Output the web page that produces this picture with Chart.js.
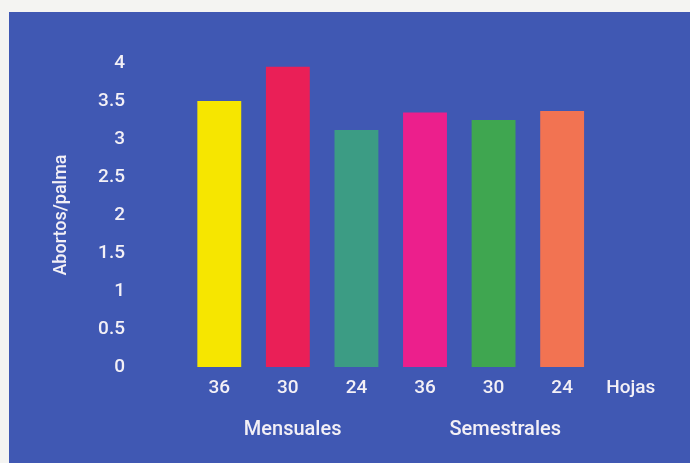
<!DOCTYPE html>
<html>
<head>
<meta charset="utf-8">
<script src="https://cdn.jsdelivr.net/npm/chart.js@4"></script>
<style>
  html, body { margin: 0; padding: 0; background: #f4f4f2; }
  #wrap { position: absolute; left: 9px; top: 12px; width: 681px; height: 451px; background: #4058b3; }
</style>
</head>
<body>
<div id="wrap"><canvas id="abortosChart" width="681" height="451"></canvas></div>
<script>
// categorias (hojas por palma) y la etiqueta final del eje
const hojas = ["36", "30", "24", "36", "30", "24", "Hojas"];
const abortos = [3.5, 3.95, 3.12, 3.35, 3.25, 3.37, null];
const barColors = ["#f6e600", "#ea1f57", "#3c9c84", "#ec1f8c", "#3fa650", "#f27352", "rgba(0,0,0,0)"];
// grupos de poda, en posiciones del eje de categorias
const grupos = ["Mensuales", "Semestrales"];
const grupoPos = [1.07, 4.17];
const yTicks = [0, 0.5, 1, 1.5, 2, 2.5, 3, 3.5, 4];

const fontName = "Roboto, sans-serif";
const txtColor = "#f3f0f6";

const ctx = document.getElementById("abortosChart").getContext("2d");

const abortosChart = new Chart(ctx, {
  type: "bar",
  data: {
    labels: hojas,
    datasets: [
      {
        label: "Abortos/palma",
        data: abortos,
        backgroundColor: barColors,
        borderWidth: 0,
        barPercentage: 0.64,
        categoryPercentage: 1,
      },
    ],
  },
  options: {
    responsive: false,
    animation: false,
    layout: { padding: { top: 51, right: 25, bottom: 8, left: 0 } },
    plugins: { legend: { display: false }, tooltip: { enabled: false } },
    scales: {
      x: {
        type: "category",
        position: "bottom",
        grid: { display: false, drawTicks: false },
        border: { display: false },
        ticks: {
          color: txtColor,
          padding: 10,
          font: { family: fontName, size: 19, weight: "500" },
          maxRotation: 0,
          autoSkip: false,
        },
        afterFit: (scale) => { scale.height = 38; },
      },
      grupo: {
        type: "linear",
        position: "bottom",
        offset: false,
        min: -0.5,
        max: 6.5,
        grid: { display: false, drawTicks: false },
        border: { display: false },
        afterBuildTicks: (scale) => {
          scale.ticks = grupoPos.map((v) => ({ value: v }));
        },
        ticks: {
          color: txtColor,
          padding: 13,
          autoSkip: false,
          maxRotation: 0,
          font: { family: fontName, size: 20, weight: "500" },
          callback: (value) => grupos[grupoPos.indexOf(value)],
        },
        afterFit: (scale) => { scale.height = 50; },
      },
      y: {
        min: 0,
        max: 4,
        // tick marks hidden, their length only moves the labels left
        grid: { display: false, drawTicks: true, tickLength: 56 },
        border: { display: false },
        afterBuildTicks: (scale) => {
          scale.ticks = yTicks.map((v) => ({ value: v }));
        },
        ticks: {
          color: txtColor,
          padding: 4,
          font: { family: fontName, size: 19, weight: "500" },
          callback: (value) => String(value),
        },
        title: {
          display: true,
          text: "Abortos/palma",
          color: txtColor,
          font: { family: fontName, size: 18, weight: "500" },
          padding: { top: 42, bottom: 0 },
        },
        afterFit: (scale) => { scale.width = 176; },
      },
    },
  },
});
</script>
</body>
</html>
